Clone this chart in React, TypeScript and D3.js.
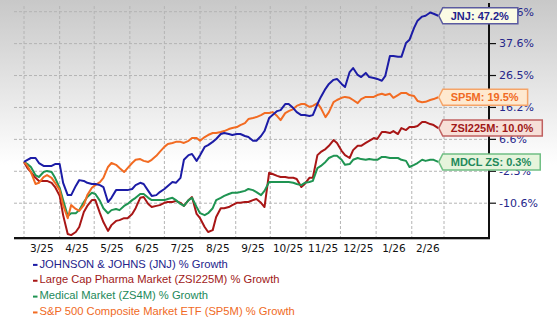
import React, { useEffect, useRef } from "react";
import * as d3 from "d3";

// Weekly (Friday) closes plus mid-week (Tuesday) readings
const fridays = [
  "2025-03-01", "2025-03-07", "2025-03-14", "2025-03-21", "2025-03-28",
  "2025-04-04", "2025-04-11", "2025-04-18", "2025-04-25",
  "2025-05-02", "2025-05-09", "2025-05-16", "2025-05-23", "2025-05-30",
  "2025-06-06", "2025-06-13", "2025-06-20", "2025-06-27",
  "2025-07-04", "2025-07-11", "2025-07-18", "2025-07-25",
  "2025-08-01", "2025-08-08", "2025-08-15", "2025-08-22", "2025-08-29",
  "2025-09-05", "2025-09-12", "2025-09-19", "2025-09-26",
  "2025-10-03", "2025-10-10", "2025-10-17", "2025-10-24", "2025-10-31",
  "2025-11-07", "2025-11-14", "2025-11-21", "2025-11-28",
  "2025-12-05", "2025-12-12", "2025-12-19", "2025-12-26",
  "2026-01-02", "2026-01-09", "2026-01-16", "2026-01-23", "2026-01-30",
  "2026-02-06", "2026-02-13", "2026-02-20", "2026-02-24",
];
const tuesdays = [
  "2025-03-04", "2025-03-11", "2025-03-18", "2025-03-25",
  "2025-04-01", "2025-04-08", "2025-04-15", "2025-04-22", "2025-04-29",
  "2025-05-06", "2025-05-13", "2025-05-20", "2025-05-27",
  "2025-06-03", "2025-06-10", "2025-06-17", "2025-06-24",
  "2025-07-01", "2025-07-08", "2025-07-15", "2025-07-22", "2025-07-29",
  "2025-08-05", "2025-08-12", "2025-08-19", "2025-08-26",
  "2025-09-02", "2025-09-09", "2025-09-16", "2025-09-23", "2025-09-30",
  "2025-10-07", "2025-10-14", "2025-10-21", "2025-10-28",
  "2025-11-04", "2025-11-11", "2025-11-18", "2025-11-25",
  "2025-12-02", "2025-12-09", "2025-12-16", "2025-12-23", "2025-12-30",
  "2026-01-06", "2026-01-13", "2026-01-20", "2026-01-27",
  "2026-02-03", "2026-02-10", "2026-02-17",
];

const jnjFri = [0.3, 1.4, 0.0, -0.8, -0.3, -5.3, -8.5, -4.6, -5.3, -5.6, -6.4, -9.2, -7.2, -7.2, -5.9, -5.6, -8.7, -7.7, -6.1, -5.3, 0.9, 2.5, 2.2, 5.0, 6.7, 8.5, 7.9, 8.2, 7.3, 6.2, 9.1, 13.9, 15.4, 17.3, 14.8, 13.9, 13.9, 19.6, 23.8, 25.4, 22.8, 29.1, 26.0, 26.0, 25.4, 26.4, 33.3, 33.0, 38.9, 45.5, 47.2, 47.9, 47.2];
const jnjTue = [0.9, 1.4, -0.8, -0.8, -0.3, -8.5, -6.1, -4.8, -5.6, -5.9, -10.3, -7.2, -7.2, -6.9, -5.3, -7.4, -8.5, -6.9, -5.1, -4.0, 2.2, 0.6, 4.5, 5.9, 8.2, 8.2, 8.2, 7.6, 6.2, 7.6, 13.0, 15.1, 17.3, 16.0, 13.9, 13.6, 17.3, 22.2, 25.1, 23.8, 27.7, 26.7, 27.4, 25.7, 24.8, 33.3, 33.0, 37.8, 43.0, 46.9, 48.3];

const zsiFri = [0.3, -2.5, -4.8, -4.8, -6.4, -13.7, -18.9, -16.8, -11.3, -9.8, -15.5, -16.3, -15.0, -14.5, -11.9, -9.0, -11.6, -11.1, -10.3, -10.0, -11.3, -9.0, -14.5, -18.1, -14.2, -11.9, -11.1, -10.5, -10.3, -9.5, -11.6, -3.0, -3.8, -4.0, -4.3, -5.6, -4.0, 3.1, 4.8, 5.6, 2.2, 3.6, 4.8, 6.2, 6.7, 8.8, 9.1, 10.0, 10.3, 10.6, 11.8, 10.9, 10.0];
const zsiTue = [-1.4, -4.0, -4.8, -5.3, -8.7, -18.6, -18.1, -12.9, -9.8, -13.2, -17.8, -15.2, -14.5, -13.4, -9.2, -10.8, -11.3, -10.5, -10.3, -10.5, -9.8, -13.4, -16.8, -17.6, -11.9, -11.6, -10.5, -10.3, -9.8, -10.5, -2.7, -3.5, -3.8, -4.0, -6.4, -4.0, 2.2, 3.9, 6.4, 3.4, 1.4, 4.8, 5.6, 7.0, 8.8, 8.5, 8.2, 9.4, 10.3, 11.8, 11.2];

const mdclFri = [0.3, -1.1, -3.8, -2.2, -4.0, -9.8, -13.2, -12.4, -9.0, -8.2, -11.9, -12.4, -12.4, -10.8, -9.2, -8.2, -9.8, -9.8, -9.5, -9.8, -11.3, -9.2, -13.2, -13.2, -9.8, -8.7, -7.9, -7.7, -6.9, -7.7, -7.4, -5.1, -5.1, -5.1, -5.6, -5.3, -4.8, -0.8, 1.4, 2.0, -0.5, 0.9, 1.1, 1.1, 0.9, 1.7, 1.4, 0.9, -1.1, 0.0, 0.6, 0.9, 0.3];
const mdclTue = [-0.3, -3.3, -2.5, -2.5, -6.6, -13.9, -13.2, -10.3, -7.9, -10.0, -13.2, -12.1, -11.3, -9.8, -8.2, -9.2, -9.8, -9.8, -9.2, -10.8, -9.8, -11.6, -13.7, -11.9, -9.2, -8.2, -7.9, -7.4, -7.2, -8.5, -5.1, -5.1, -5.1, -5.3, -5.9, -5.1, -1.4, 0.3, 2.0, 0.9, -0.3, 1.4, 0.9, 0.9, 1.7, 1.4, 1.4, 0.6, -0.5, 0.9, 0.9];

const sp5mFri = [0.3, -2.5, -5.3, -3.3, -5.3, -11.1, -11.1, -12.6, -8.5, -5.9, -4.0, 0.0, -1.4, -1.4, 0.9, 0.6, 0.9, 3.1, 5.3, 5.9, 5.6, 7.0, 6.2, 7.9, 8.5, 9.1, 10.0, 10.9, 12.7, 13.3, 14.5, 14.8, 12.4, 15.1, 16.7, 17.3, 16.7, 16.0, 14.8, 18.6, 19.6, 18.6, 18.9, 19.6, 20.2, 20.2, 19.3, 20.9, 20.2, 18.3, 18.0, 18.9, 19.5];
const sp5mTue = [-0.8, -5.6, -3.8, -4.0, -7.2, -14.5, -12.1, -11.1, -6.6, -5.1, -1.1, -0.5, -2.5, 0.0, 1.1, 0.3, 2.0, 4.5, 5.6, 5.9, 6.2, 7.0, 7.3, 8.5, 8.8, 9.7, 10.3, 11.5, 13.0, 13.9, 14.5, 13.6, 14.5, 15.7, 17.3, 16.4, 17.6, 13.3, 17.9, 19.3, 19.3, 17.6, 19.6, 19.6, 20.6, 20.6, 20.2, 20.9, 19.9, 17.9, 18.6];

const yTicks = [-10.6, -2.3, 6.6, 16.2, 26.5, 37.6, 48.6];
const xTickLabels = ["3/25", "4/25", "5/25", "6/25", "7/25", "8/25", "9/25", "10/25", "11/25", "12/25", "1/26", "2/26"];

const legendLabels = [
  "JOHNSON & JOHNS (JNJ) % Growth",
  "Large Cap Pharma Market (ZSI225M) % Growth",
  "Medical Market (ZS4M) % Growth",
  "S&P 500 Composite Market ETF (SP5M) % Growth",
];
const endLabels = ["JNJ: 47.2%", "ZSI225M: 10.0%", "MDCL ZS: 0.3%", "SP5M: 19.5%"];

const lineColors = ["#1c1ca6", "#a81616", "#1f9452", "#f26b22"];
const textColors = ["#23238c", "#a01818", "#22895a", "#f06a24"];
const boxFills = ["#fbfbe4", "#f7e0d8", "#e6f4dc", "#fee9d0"];
const boxStrokes = ["#5a5aa0", "#c06060", "#70bf84", "#f5a468"];

type Pt = { d: Date; v: number };

export default function App() {
  const ref = useRef<SVGSVGElement>(null);

  useEffect(() => {
    document.body.style.margin = "0";
    const W = 557, H = 318;
    const plotL = 14, plotR = 489, plotB = 238, plotT = 3;
    const svg = d3.select(ref.current);
    svg.selectAll("*").remove();

    const parse = d3.timeParse("%Y-%m-%d");
    const fri = fridays.map((d) => parse(d) as Date);
    const tue = tuesdays.map((d) => parse(d) as Date);
    const build = (a: number[], b: number[]): Pt[] =>
      fri.map((d, i) => ({ d, v: a[i] }))
        .concat(tue.map((d, i) => ({ d, v: b[i] })))
        .sort((p, q) => +p.d - +q.d);
    const allSeries = [
      build(jnjFri, jnjTue),
      build(zsiFri, zsiTue),
      build(mdclFri, mdclTue),
      build(sp5mFri, sp5mTue),
    ];

    const start = new Date(2025, 2, 1);
    const end = new Date(2026, 2, 1);
    const x = d3.scaleTime().domain([start, end]).range([24, 444]);
    const yPix = yTicks.map((_, i) => 203.2 - 31.92 * i);
    const y = d3.scaleLinear().domain(yTicks).range(yPix);

    const defs = svg.append("defs");
    const grad = defs.append("linearGradient").attr("id", "bg")
      .attr("gradientUnits", "userSpaceOnUse")
      .attr("x1", 0).attr("y1", 0).attr("x2", 0).attr("y2", 165);
    grad.append("stop").attr("offset", 0).attr("stop-color", "#c8c8c8");
    grad.append("stop").attr("offset", 1).attr("stop-color", "#ffffff");

    svg.append("rect").attr("width", W).attr("height", H).attr("fill", "#ffffff");
    svg.append("rect").attr("width", W).attr("height", 165).attr("fill", "url(#bg)");

    svg.append("g").selectAll("line").data(yTicks).join("line")
      .attr("x1", plotL).attr("x2", plotR)
      .attr("y1", (d) => y(d)).attr("y2", (d) => y(d))
      .attr("stroke", "#b4b4b4").attr("stroke-width", 1).attr("stroke-dasharray", "3,2");

    const months = d3.timeMonth.range(start, d3.timeDay.offset(end, 1));
    svg.append("g").selectAll("line").data(months).join("line")
      .attr("x1", (d) => x(d)).attr("x2", (d) => x(d))
      .attr("y1", 6).attr("y2", plotB)
      .attr("stroke", "#b4b4b4").attr("stroke-width", 1).attr("stroke-dasharray", "3,2");

    svg.append("g").selectAll("text").data(xTickLabels).join("text")
      .attr("x", (_, i) => (x(months[i]) + x(months[i + 1])) / 2)
      .attr("y", 252)
      .attr("text-anchor", "middle")
      .attr("font-family", "DejaVu Sans, Verdana, sans-serif")
      .attr("font-size", 10.5)
      .attr("fill", "#111")
      .text((d) => d);

    svg.append("line").attr("x1", plotL).attr("x2", plotR + 1).attr("y1", plotB + 1.2).attr("y2", plotB + 1.2)
      .attr("stroke", "#999").attr("stroke-width", 1);
    svg.append("line").attr("x1", plotL).attr("x2", plotR + 1).attr("y1", plotB).attr("y2", plotB)
      .attr("stroke", "#111").attr("stroke-width", 2);
    svg.append("line").attr("x1", plotR).attr("x2", plotR).attr("y1", plotT).attr("y2", plotB)
      .attr("stroke", "#111").attr("stroke-width", 2);

    const rt = svg.append("g");
    rt.selectAll("line").data(yTicks).join("line")
      .attr("x1", plotR).attr("x2", plotR + 7)
      .attr("y1", (d) => y(d)).attr("y2", (d) => y(d))
      .attr("stroke", "#111").attr("stroke-width", 1.2);
    rt.selectAll("text").data(yTicks).join("text")
      .attr("x", plotR + 10).attr("y", (d) => y(d)).attr("dy", "0.35em")
      .attr("font-family", "DejaVu Sans, Verdana, sans-serif")
      .attr("font-size", 11)
      .attr("fill", "#26268a")
      .text((d) => d.toFixed(1) + "%");

    const line = d3.line<Pt>()
      .x((p) => x(p.d))
      .y((p) => y(p.v));
    [1, 2, 3, 0].forEach((si) => {
      svg.append("path").datum(allSeries[si])
        .attr("d", line)
        .attr("fill", "none")
        .attr("stroke", lineColors[si])
        .attr("stroke-width", 2)
        .attr("stroke-linejoin", "round");
    });

    allSeries.forEach((s, si) => {
      const lastPt = s[s.length - 1];
      const cy = y(lastPt.v);
      const tip = x(lastPt.d) + 0.5;
      const g = svg.append("g");
      const path = g.append("path");
      const t = g.append("text")
        .attr("x", tip + 12).attr("y", cy).attr("dy", "0.36em")
        .attr("font-family", "Liberation Sans, Arial, sans-serif")
        .attr("font-weight", "bold")
        .attr("font-size", 11)
        .attr("fill", textColors[si])
        .text(endLabels[si]);
      const tw = (t.node() as SVGTextElement).getComputedTextLength();
      const right = tip + 12 + tw + 9;
      const h = 8;
      path.attr("d", `M${tip},${cy} L${tip + 4},${cy - h} L${right},${cy - h} L${right},${cy + h} L${tip + 4},${cy + h} Z`)
        .attr("fill", boxFills[si])
        .attr("stroke", boxStrokes[si])
        .attr("stroke-width", 1.5);
    });

    const lg = svg.append("g");
    legendLabels.forEach((lab, i) => {
      const by = 267.5 + i * 15.85;
      lg.append("rect").attr("x", 33).attr("y", by - 3.6).attr("width", 4.5).attr("height", 2)
        .attr("fill", lineColors[i]);
      lg.append("text").attr("x", 39.5).attr("y", by)
        .attr("font-family", "Liberation Sans, Arial, sans-serif")
        .attr("font-size", 11.2)
        .attr("fill", textColors[i])
        .text(lab);
    });
  }, []);

  return <svg ref={ref} width={557} height={318} style={{ display: "block" }} />;
}
